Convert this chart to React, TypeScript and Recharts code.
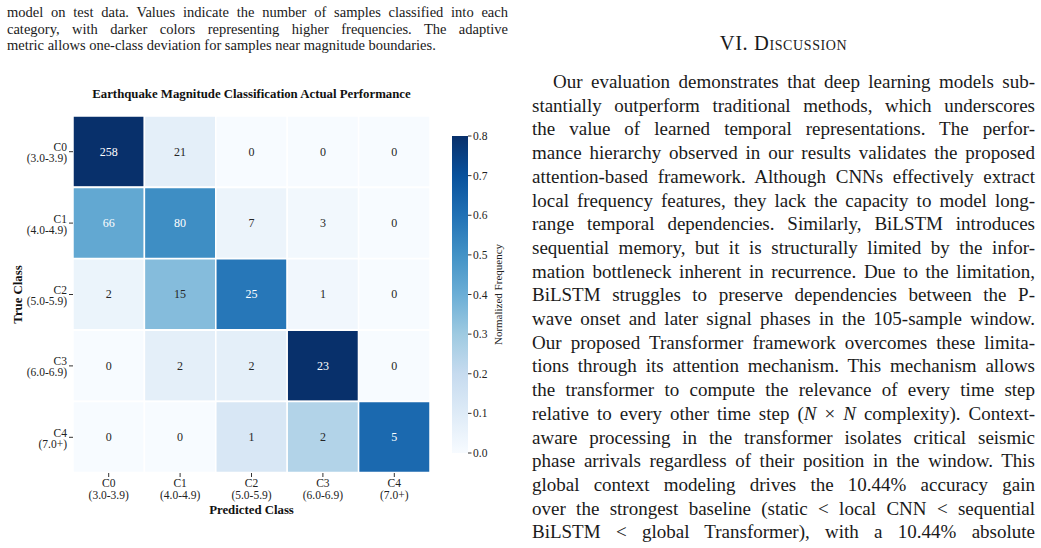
import React from "react";
import { BarChart, Bar, XAxis, YAxis, Cell, LabelList, Label } from "recharts";

const classes = ["C0", "C1", "C2", "C3", "C4"];
const ranges = ["(3.0-3.9)", "(4.0-4.9)", "(5.0-5.9)", "(6.0-6.9)", "(7.0+)"];
const counts = [
  [258, 21, 0, 0, 0],
  [66, 80, 7, 3, 0],
  [2, 15, 25, 1, 0],
  [0, 2, 2, 23, 0],
  [0, 0, 1, 2, 5],
];
const cbarTicks = [0, 0.1, 0.2, 0.3, 0.4, 0.5, 0.6, 0.7, 0.8];

const captionLines = [
  "model on test data. Values indicate the number of samples classified into each",
  "category, with darker colors representing higher frequencies. The adaptive",
  "metric allows one-class deviation for samples near magnitude boundaries.",
];

const discussionLines: React.ReactNode[] = [
  "Our evaluation demonstrates that deep learning models sub-",
  "stantially outperform traditional methods, which underscores",
  "the value of learned temporal representations. The perfor-",
  "mance hierarchy observed in our results validates the proposed",
  "attention-based framework. Although CNNs effectively extract",
  "local frequency features, they lack the capacity to model long-",
  "range temporal dependencies. Similarly, BiLSTM introduces",
  "sequential memory, but it is structurally limited by the infor-",
  "mation bottleneck inherent in recurrence. Due to the limitation,",
  "BiLSTM struggles to preserve dependencies between the P-",
  "wave onset and later signal phases in the 105-sample window.",
  "Our proposed Transformer framework overcomes these limita-",
  "tions through its attention mechanism. This mechanism allows",
  "the transformer to compute the relevance of every time step",
  <>relative to every other time step (<i>N</i> × <i>N</i> complexity). Context-</>,
  "aware processing in the transformer isolates critical seismic",
  "phase arrivals regardless of their position in the window. This",
  "global context modeling drives the 10.44% accuracy gain",
  "over the strongest baseline (static < local CNN < sequential",
  "BiLSTM < global Transformer), with a 10.44% absolute",
];

const BLUES = ["#f7fbff", "#deebf7", "#c6dbef", "#9ecae1", "#6baed6", "#4292c6", "#2171b5", "#08519c", "#08306b"];
const VMAX = 0.8;
const FONT = "'Liberation Serif', 'Times New Roman', serif";

const hex = (h: string) => [1, 3, 5].map((i) => parseInt(h.slice(i, i + 2), 16));

function blues(v: number) {
  const t = Math.max(0, Math.min(1, v / VMAX)) * 8;
  const i = Math.min(7, Math.floor(t));
  const f = t - i;
  const a = hex(BLUES[i]);
  const b = hex(BLUES[i + 1]);
  const c = a.map((x, k) => Math.round(x + (b[k] - x) * f));
  return { rgb: c, css: `rgb(${c[0]},${c[1]},${c[2]})` };
}

function luminance(rgb: number[]) {
  const l = rgb.map((x) => {
    const s = x / 255;
    return s <= 0.03928 ? s / 12.92 : Math.pow((s + 0.055) / 1.055, 2.4);
  });
  return 0.2126 * l[0] + 0.7152 * l[1] + 0.0722 * l[2];
}

const rowSums = counts.map((r) => r.reduce((a, b) => a + b, 0));
const norm = counts.map((r, i) => r.map((v) => v / rowSums[i]));

const rows = classes.map((c, i) => {
  const o: any = { row: c };
  classes.forEach((_, j) => {
    o[`u${j}`] = 1;
    o[`n${j}`] = counts[i][j];
  });
  return o;
});

const cbarData = [{ k: "cb", v: VMAX }];

const YTick = (props: any) => {
  const { x, y, payload } = props;
  const idx = classes.indexOf(payload.value);
  return (
    <text x={x} y={y} textAnchor="end" fontSize={11.5} fill="#222" fontFamily={FONT}>
      <tspan x={x} dy={-0.5}>{payload.value}</tspan>
      <tspan x={x} dy={11}>{ranges[idx]}</tspan>
    </text>
  );
};

const XTick = (props: any) => {
  const { x, y, payload } = props;
  const idx = Math.floor(payload.value);
  return (
    <text x={x} y={y} textAnchor="middle" fontSize={11.5} fill="#222" fontFamily={FONT}>
      <tspan x={x} dy={8}>{classes[idx]}</tspan>
      <tspan x={x} dy={11.5}>{ranges[idx]}</tspan>
    </text>
  );
};

const valueLabel = (j: number) => (p: any) => {
  const { x, y, width, height, value, index } = p;
  const col = blues(norm[index][j]);
  const fill = luminance(col.rgb) > 0.408 ? "#262626" : "#ffffff";
  return (
    <text
      x={x + width / 2}
      y={y + height / 2 + 4}
      textAnchor="middle"
      fontSize={12}
      fill={fill}
      fontFamily={FONT}
    >
      {value}
    </text>
  );
};

export default function App() {
  return (
    <div
      style={{
        position: "relative",
        width: 1041,
        height: 548,
        overflow: "hidden",
        background: "#fff",
        fontFamily: FONT,
        color: "#1a1a1a",
      }}
    >
      <style>{"body{margin:0}"}</style>

      {/* figure caption tail */}
      <div style={{ position: "absolute", left: 7, top: 4, width: 501, fontSize: 14.5, lineHeight: "16.5px" }}>
        {captionLines.map((l, i) => (
          <div
            key={i}
            style={{
              textAlign: i < captionLines.length - 1 ? "justify" : "left",
              textAlignLast: i < captionLines.length - 1 ? "justify" : "left",
              whiteSpace: "nowrap",
            }}
          >
            {l}
          </div>
        ))}
      </div>

      {/* section heading */}
      <div
        style={{
          position: "absolute",
          left: 532,
          width: 503,
          top: 31,
          textAlign: "center",
          fontSize: 20.5,
          lineHeight: "24px",
          fontVariant: "small-caps",
          letterSpacing: 0.6,
        }}
      >
        VI. Discussion
      </div>

      {/* discussion text */}
      <div style={{ position: "absolute", left: 532, top: 70, width: 503, fontSize: 19, lineHeight: "23.7px" }}>
        {discussionLines.map((l, i) => (
          <div
            key={i}
            style={{
              textAlign: "justify",
              textAlignLast: "justify",
              whiteSpace: "nowrap",
              paddingLeft: i === 0 ? 21 : 0,
            }}
          >
            {l}
          </div>
        ))}
      </div>

      {/* chart title */}
      <div
        style={{
          position: "absolute",
          left: 0,
          width: 503,
          top: 87,
          textAlign: "center",
          fontSize: 12.8,
          fontWeight: "bold",
          lineHeight: "15px",
          color: "#111",
        }}
      >
        Earthquake Magnitude Classification Actual Performance
      </div>

      {/* heatmap */}
      <div style={{ position: "absolute", left: 0, top: 0 }}>
        <BarChart
          width={520}
          height={548}
          data={rows}
          layout="vertical"
          barCategoryGap={0}
          barGap={0}
          margin={{ top: 116, right: 90, bottom: 35, left: 0 }}
        >
          <XAxis
            type="number"
            domain={[0, 5]}
            ticks={classes.map((_, i) => i + 0.5)}
            interval={0}
            height={40}
            axisLine={false}
            tickLine={{ stroke: "#333" }}
            tickSize={4}
            tickMargin={2}
            tick={<XTick />}
          >
            <Label
              content={(p: any) => {
                const vb = p.viewBox;
                return (
                  <text
                    x={vb.x + vb.width / 2}
                    y={vb.y + 40.5}
                    textAnchor="middle"
                    fontSize={12.8}
                    fontWeight="bold"
                    fill="#111"
                    fontFamily={FONT}
                  >
                    Predicted Class
                  </text>
                );
              }}
            />
          </XAxis>
          <YAxis
            type="category"
            dataKey="row"
            width={73}
            axisLine={false}
            tickLine={{ stroke: "#333" }}
            tickSize={4}
            tickMargin={2}
            interval={0}
            tick={<YTick />}
          >
            <Label
              content={(p: any) => {
                const vb = p.viewBox;
                const cx = vb.x + 18;
                const cy = vb.y + vb.height / 2;
                return (
                  <text
                    x={cx}
                    y={cy}
                    transform={`rotate(-90 ${cx} ${cy})`}
                    textAnchor="middle"
                    dominantBaseline="central"
                    fontSize={12.8}
                    fontWeight="bold"
                    fill="#111"
                    fontFamily={FONT}
                  >
                    True Class
                  </text>
                );
              }}
            />
          </YAxis>
          {classes.map((_, j) => (
            <Bar
              key={j}
              dataKey={`u${j}`}
              stackId="m"
              isAnimationActive={false}
              stroke="#fff"
              strokeWidth={1.5}
            >
              {rows.map((_r, i) => (
                <Cell key={i} fill={blues(norm[i][j]).css} />
              ))}
              <LabelList dataKey={`n${j}`} content={valueLabel(j)} />
            </Bar>
          ))}
        </BarChart>
      </div>

      {/* colorbar */}
      <div style={{ position: "absolute", left: 440, top: 0 }}>
        <BarChart
          width={100}
          height={548}
          data={cbarData}
          barCategoryGap={0}
          margin={{ top: 136, right: 0, bottom: 95, left: 12 }}
        >
          <defs>
            <linearGradient id="cbarGrad" x1="0" y1="1" x2="0" y2="0">
              {BLUES.map((c, i) => (
                <stop key={i} offset={`${(i / (BLUES.length - 1)) * 100}%`} stopColor={c} />
              ))}
            </linearGradient>
          </defs>
          <XAxis dataKey="k" type="category" hide />
          <YAxis
            orientation="right"
            type="number"
            domain={[0, VMAX]}
            ticks={cbarTicks}
            interval={0}
            width={72}
            axisLine={false}
            tickLine={{ stroke: "#333" }}
            tickSize={3.5}
            tickMargin={1.5}
            tickFormatter={(v: number) => v.toFixed(1)}
            tick={{ fontSize: 11.5, fill: "#222", fontFamily: FONT }}
          >
            <Label
              content={(p: any) => {
                const vb = p.viewBox;
                const cx = vb.x + 30;
                const cy = vb.y + vb.height / 2;
                return (
                  <text
                    x={cx}
                    y={cy}
                    transform={`rotate(-90 ${cx} ${cy})`}
                    textAnchor="middle"
                    dominantBaseline="central"
                    fontSize={11}
                    fill="#222"
                    fontFamily={FONT}
                  >
                    Normalized Frequency
                  </text>
                );
              }}
            />
          </YAxis>
          <Bar dataKey="v" fill="url(#cbarGrad)" isAnimationActive={false} />
        </BarChart>
      </div>
    </div>
  );
}
